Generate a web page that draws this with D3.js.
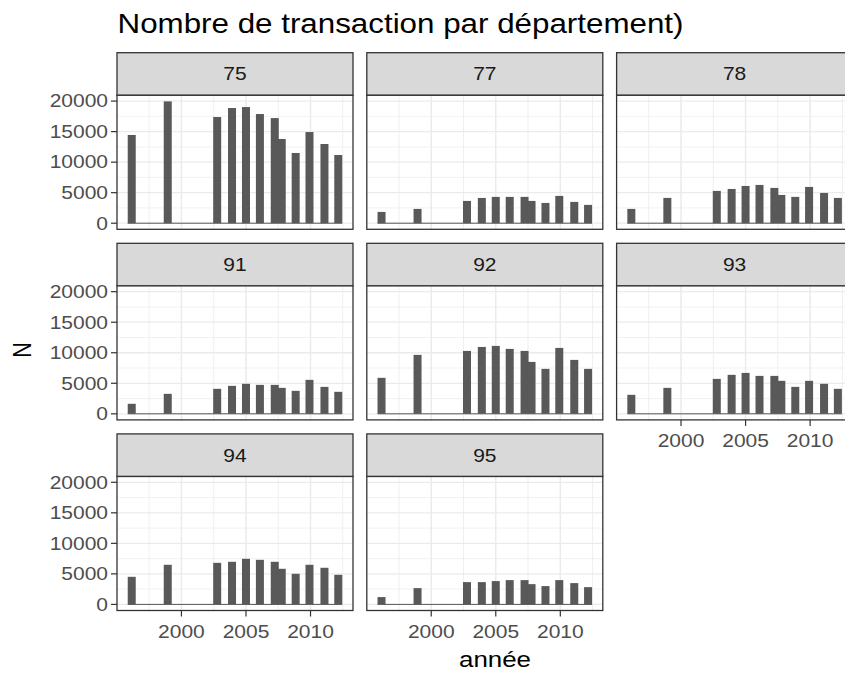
<!DOCTYPE html>
<html>
<head>
<meta charset="utf-8">
<script src="https://cdn.jsdelivr.net/npm/d3@7"></script>
<style>
  body { margin: 0; background: #fff; }
  text { font-family: "Liberation Sans", Arial, sans-serif; }
</style>
</head>
<body>
<script>
// values
var annees = [1996.15, 1998.94, 2002.77, 2003.92, 2005.0, 2006.08, 2007.23, 2007.77, 2008.85, 2009.92, 2011.08, 2012.15];
var departements = ['75', '77', '78', '91', '92', '93', '94', '95'];
var n75 = [14450, 19950, 17390, 18860, 19020, 17880, 17220, 13790, 11500, 14930, 12970, 11170];
var n77 = [1850, 2340, 3650, 4140, 4310, 4310, 4310, 3650, 3320, 4470, 3490, 3000];
var n78 = [2340, 4140, 5290, 5610, 6100, 6270, 5780, 4630, 4310, 5940, 4960, 4140];
var n91 = [1640, 3270, 4090, 4580, 4910, 4740, 4740, 4250, 3760, 5560, 4410, 3600];
var n92 = [5890, 9650, 10300, 10950, 11120, 10630, 10300, 8500, 7360, 10790, 8830, 7360];
var n93 = [3110, 4250, 5720, 6380, 6700, 6210, 6210, 5400, 4410, 5400, 4910, 4090];
var n94 = [4520, 6490, 6810, 6980, 7470, 7300, 6980, 5830, 5010, 6490, 6000, 4850];
var n95 = [1200, 2670, 3650, 3650, 3820, 3980, 3980, 3320, 3000, 3980, 3490, 2830];
var yTicks = [0, 5000, 10000, 15000, 20000];
var yMinor = [2500, 7500, 12500, 17500];
var xTicks = [2000, 2005, 2010];
var xMinor = [1997.5, 2002.5, 2007.5, 2012.5];

var series = [n75, n77, n78, n91, n92, n93, n94, n95];

var width = 845, height = 677,
    ncol = 3,
    left0 = 117, colPitch = 249.8, panelW = 236,
    top0 = 52.7, rowPitch = 190.6, stripH = 42.6, panelH = 134,
    barW = 0.62,       // in years
    sx = 1.2;          // the picture's glyphs are stretched horizontally

var svg = d3.select('body').append('svg')
    .attr('width', width)
    .attr('height', height);

var lo = d3.min(annees) - barW / 2,
    hi = d3.max(annees) + barW / 2,
    pad = (hi - lo) * 0.05;
var x = d3.scaleLinear().domain([lo - pad, hi + pad]).range([0, panelW]);

var maxN = d3.max(series, function (s) { return d3.max(s); });
var y = d3.scaleLinear().domain([-0.05 * maxN, 1.05 * maxN]).range([panelH, 0]);

var label = function label(sel, txt, px, py, size, anchor, color, rotate, stretch) {
    return sel.append('text')
        .attr('transform', 'translate(' + px + ',' + py + ') scale(' + (stretch || sx) + ',1)' + (rotate ? ' rotate(-90)' : ''))
        .attr('text-anchor', anchor)
        .attr('font-size', size)
        .attr('fill', color)
        .text(txt);
};

departements.forEach(function (dep, i) {
    var col = i % ncol,
        row = Math.floor(i / ncol),
        values = series[i],
        g = svg.append('g')
            .attr('transform', 'translate(' + (left0 + col * colPitch) + ',' + (top0 + row * rowPitch) + ')');

    // strip
    g.append('rect')
        .attr('width', panelW).attr('height', stripH)
        .attr('fill', '#D9D9D9').attr('stroke', '#333333').attr('stroke-width', 1.3);
    label(g, dep, panelW / 2, stripH / 2 + 6.3, 17.5, 'middle', '#1A1A1A');

    var p = g.append('g').attr('transform', 'translate(0,' + stripH + ')');
    p.append('rect').attr('width', panelW).attr('height', panelH).attr('fill', '#fff');

    // grid
    p.selectAll('.ymin').data(yMinor).enter().append('line')
        .attr('x1', 0).attr('x2', panelW)
        .attr('y1', y).attr('y2', y)
        .attr('stroke', '#EBEBEB').attr('stroke-width', 0.7);
    p.selectAll('.xmin').data(xMinor).enter().append('line')
        .attr('x1', x).attr('x2', x)
        .attr('y1', 0).attr('y2', panelH)
        .attr('stroke', '#EBEBEB').attr('stroke-width', 0.8);
    p.selectAll('.ymaj').data(yTicks).enter().append('line')
        .attr('x1', 0).attr('x2', panelW)
        .attr('y1', y).attr('y2', y)
        .attr('stroke', '#EBEBEB').attr('stroke-width', 1.3);
    p.selectAll('.xmaj').data(xTicks).enter().append('line')
        .attr('x1', x).attr('x2', x)
        .attr('y1', 0).attr('y2', panelH)
        .attr('stroke', '#EBEBEB').attr('stroke-width', 1.5);

    // zero baseline between bars
    p.append('line')
        .attr('x1', x(lo)).attr('x2', x(hi))
        .attr('y1', y(0)).attr('y2', y(0))
        .attr('stroke', '#595959').attr('stroke-width', 1);

    // bars
    p.selectAll('.bar').data(annees).enter().append('rect')
        .attr('x', function (d) { return x(d - barW / 2); })
        .attr('width', function (d) { return x(d + barW / 2) - x(d - barW / 2); })
        .attr('y', function (d, j) { return y(values[j]); })
        .attr('height', function (d, j) { return y(0) - y(values[j]); })
        .attr('fill', '#595959');

    p.append('rect')
        .attr('width', panelW).attr('height', panelH)
        .attr('fill', 'none').attr('stroke', '#333333').attr('stroke-width', 1.3);

    // y axis on first column
    if (col === 0) {
        yTicks.forEach(function (t) {
            p.append('line')
                .attr('x1', -6).attr('x2', 0)
                .attr('y1', y(t)).attr('y2', y(t))
                .attr('stroke', '#333333').attr('stroke-width', 1.2);
            label(p, t, -9, y(t) + 6.3, 17.5, 'end', '#4D4D4D');
        });
    }

    // x axis on the lowest panel of each column
    if (i + ncol >= departements.length) {
        xTicks.forEach(function (t) {
            p.append('line')
                .attr('x1', x(t)).attr('x2', x(t))
                .attr('y1', panelH).attr('y2', panelH + 6)
                .attr('stroke', '#333333').attr('stroke-width', 1.2);
            label(p, t, x(t), panelH + 27.5, 17.5, 'middle', '#4D4D4D');
        });
    }
});

label(svg, 'Nombre de transaction par département)', 117.5, 33, 27.5, 'start', '#000', false, 1.14);
label(svg, 'année', 495, 667, 21.6, 'middle', '#000');
label(svg, 'N', 31, 350, 21.6, 'middle', '#000', true);
</script>
</body>
</html>
